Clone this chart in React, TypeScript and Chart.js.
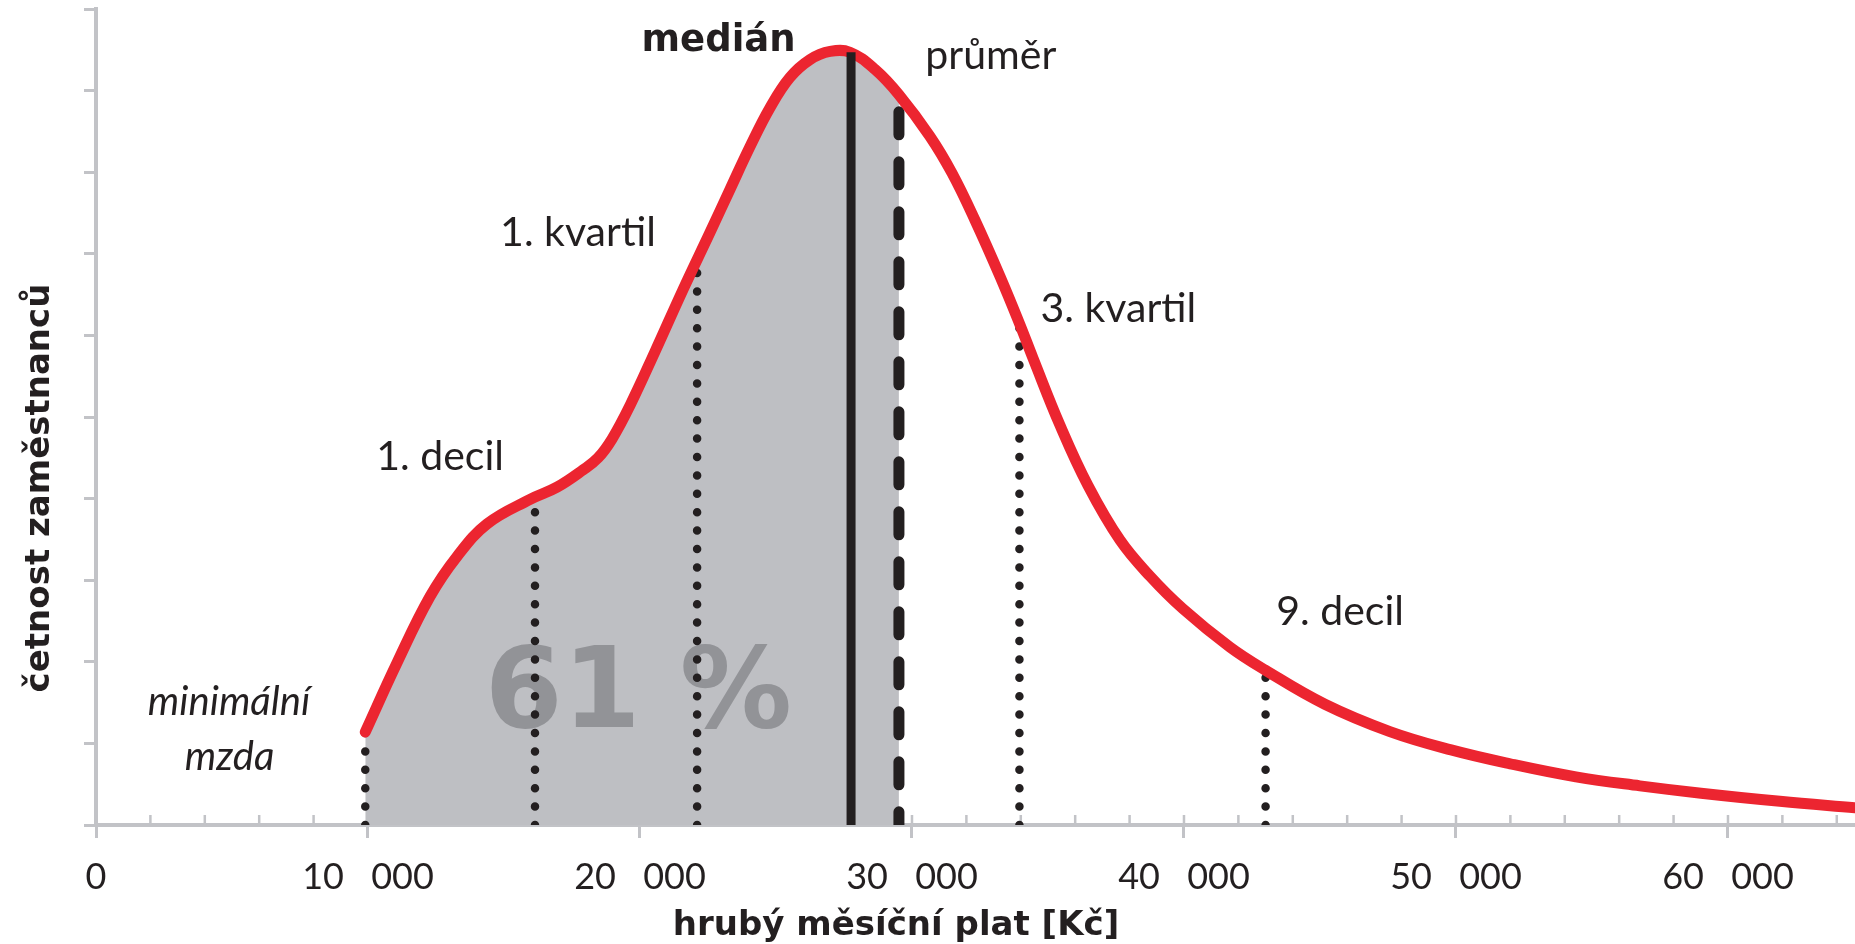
import React, { useEffect, useRef } from 'react';
import { Chart, registerables } from 'chart.js';

Chart.register(...registerables);

// ---------------- data ----------------
// wage distribution curve: gross monthly salary [Kč] and relative frequency (0–10 axis units)
const salary = [
  9900, 11070, 12280, 13270, 14380, 15960, 16950, 17900, 18460, 18970,
  19630, 20550, 21580, 22570, 23310, 24040, 24780, 25510, 26250, 26990,
  27720, 28640, 29520, 30660, 31470, 32320, 33240, 33970, 34450, 35440,
  36470, 37650, 38750, 39960, 41690, 42980, 45180, 47570, 49820, 51990,
  54410, 56760, 59010, 61910, 64670,
];
const frequency = [
  1.14, 1.99, 2.8, 3.29, 3.69, 3.99, 4.14, 4.35, 4.5, 4.73,
  5.14, 5.8, 6.56, 7.26, 7.79, 8.31, 8.79, 9.16, 9.38, 9.48,
  9.47, 9.26, 8.95, 8.44, 7.99, 7.41, 6.72, 6.13, 5.72, 4.9,
  4.16, 3.49, 3.05, 2.65, 2.18, 1.9, 1.48, 1.145, 0.92, 0.75,
  0.59, 0.48, 0.39, 0.29, 0.21,
];

// statistics markers
const markerNames = ['minimální mzda', '1. decil', '1. kvartil', 'medián', 'průměr', '3. kvartil', '9. decil'];
const markerSalary = [9900, 16140, 22100, 27760, 29520, 33950, 43000];
const markerTop = [1.14, 4.0, 6.93, 9.47, 8.74, 6.1, 1.9];

const xTickValues = [0, 10000, 20000, 30000, 40000, 50000, 60000];
const yTickValues = [0, 1, 2, 3, 4, 5, 6, 7, 8, 9, 10];
const shareText = '61 %';
const xTitle = 'hrubý měsíční plat [Kč]';
const yTitle = 'četnost zaměstnanců';

const X_MAX = 64670;
const Y_MAX = 10;
const MEDIAN = markerSalary[3];
const AVERAGE = markerSalary[4];

// ---------------- styles ----------------
const RED = '#ec2530';
const GRAY_FILL = '#bebfc3';
const AXIS = '#c2c3c7';
const INK = '#231f20';
const SHARE = '#929397';
const LIGHT_FONT = 'Lato, "Open Sans", sans-serif';
const BOLD_FONT = '"DejaVu Sans", Verdana, sans-serif';

// label layout: anchor in data units (centre x, baseline y)
const labelLayout = [
  { text: 'medián', x: 22890, y: 9.48, font: `bold 37px ${BOLD_FONT}` },
  { text: 'průměr', x: 32900, y: 9.26, font: `41px ${LIGHT_FONT}` },
  { text: '1. kvartil', x: 17720, y: 7.09, font: `41px ${LIGHT_FONT}` },
  { text: '1. decil', x: 12650, y: 4.35, font: `41px ${LIGHT_FONT}` },
  { text: '3. kvartil', x: 37590, y: 6.16, font: `41px ${LIGHT_FONT}` },
  { text: '9. decil', x: 45740, y: 2.45, font: `41px ${LIGHT_FONT}` },
  { text: 'minimální', x: 4890, y: 1.35, font: `italic 40px ${LIGHT_FONT}` },
  { text: 'mzda', x: 4910, y: 0.67, font: `italic 40px ${LIGHT_FONT}` },
];
const sharePos = { x: 19940, y: 1.2 };

const curveData = salary.map((x, i) => ({ x, y: frequency[i] }));
const fillData = curveData.filter((p) => p.x <= AVERAGE);

const markerDatasets = markerSalary.map((s, i) => {
  const isMedian = s === MEDIAN;
  const isAverage = s === AVERAGE;
  const base = {
    type: 'line' as const,
    label: markerNames[i],
    pointRadius: 0,
    tension: 0,
    fill: false,
    borderColor: INK,
  };
  if (isMedian) {
    return { ...base, data: [{ x: s, y: 0 }, { x: s, y: markerTop[i] }], borderWidth: 9, borderCapStyle: 'butt' as const, order: 0 };
  }
  if (isAverage) {
    return {
      ...base,
      data: [{ x: s, y: markerTop[i] }, { x: s, y: 0 }],
      borderWidth: 11,
      borderDash: [23, 27],
      borderCapStyle: 'round' as const,
      order: 2,
    };
  }
  return {
    ...base,
    data: [{ x: s, y: 0 }, { x: s, y: markerTop[i] }],
    borderWidth: 8.5,
    borderDash: [0, 18.4],
    borderCapStyle: 'round' as const,
    order: 3,
  };
});

const datasets: any[] = [
  {
    type: 'line',
    label: 'četnost',
    data: curveData,
    borderColor: RED,
    borderWidth: 11,
    borderCapStyle: 'round',
    borderJoinStyle: 'round',
    tension: 0.4,
    pointRadius: 0,
    fill: false,
    order: 1,
  },
  ...markerDatasets,
  {
    type: 'line',
    label: 'podíl',
    data: fillData,
    borderColor: 'transparent',
    borderWidth: 0,
    backgroundColor: GRAY_FILL,
    tension: 0.4,
    pointRadius: 0,
    fill: 'origin',
    order: 4,
  },
];
const FILL_INDEX = datasets.length - 1;

const overlay = {
  id: 'overlay',
  beforeDatasetsDraw(chart: any) {
    const { ctx, chartArea, scales } = chart;
    const x = scales.x;
    ctx.save();
    ctx.strokeStyle = AXIS;
    ctx.lineWidth = 2.5;
    ctx.beginPath();
    for (let v = 2000; v <= X_MAX; v += 2000) {
      const px = x.getPixelForValue(v);
      ctx.moveTo(px, chartArea.bottom);
      ctx.lineTo(px, chartArea.bottom - 10);
    }
    ctx.stroke();
    ctx.restore();
  },
  afterDatasetDraw(chart: any, args: any) {
    if (args.index !== FILL_INDEX) return;
    const { ctx, scales } = chart;
    ctx.save();
    ctx.fillStyle = SHARE;
    ctx.font = `bold 112px ${BOLD_FONT}`;
    ctx.textAlign = 'center';
    ctx.textBaseline = 'alphabetic';
    ctx.fillText(shareText, scales.x.getPixelForValue(sharePos.x), scales.y.getPixelForValue(sharePos.y));
    ctx.restore();
  },
  afterDraw(chart: any) {
    const { ctx, scales } = chart;
    ctx.save();
    ctx.fillStyle = INK;
    ctx.textAlign = 'center';
    ctx.textBaseline = 'alphabetic';
    for (const l of labelLayout) {
      ctx.font = l.font;
      ctx.fillText(l.text, scales.x.getPixelForValue(l.x), scales.y.getPixelForValue(l.y));
    }
    // axis titles
    ctx.font = `bold 34px ${BOLD_FONT}`;
    ctx.fillText(xTitle, 896, chart.height - 9);
    ctx.translate(49, 488);
    ctx.rotate(-Math.PI / 2);
    ctx.fillText(yTitle, 0, 0);
    ctx.restore();
  },
};

export default function App() {
  const ref = useRef<HTMLCanvasElement>(null);
  useEffect(() => {
    if (!ref.current) return;
    const chart = new Chart(ref.current, {
      type: 'line',
      data: { datasets },
      options: {
        responsive: false,
        animation: false,
        devicePixelRatio: 1,
        layout: { padding: { top: 9, right: 0, bottom: 0, left: 0 } },
        plugins: {
          legend: { display: false },
          tooltip: { enabled: false },
          title: { display: false },
        },
        scales: {
          x: {
            type: 'linear',
            min: 0,
            max: X_MAX,
            afterFit: (s: any) => {
              s.height = 119;
            },
            afterBuildTicks: (s: any) => {
              s.ticks = xTickValues.map((value) => ({ value }));
            },
            ticks: {
              autoSkip: false,
              maxRotation: 0,
              padding: 18,
              color: INK,
              font: { family: LIGHT_FONT, size: 36 },
              callback: (v: any) => (Number(v) === 0 ? '0' : `${Number(v) / 1000}\u2002 000`),
            },
            grid: { drawOnChartArea: false, drawTicks: true, tickLength: 13, tickColor: AXIS, tickWidth: 3, color: AXIS },
            border: { display: true, color: AXIS, width: 4 },
          },
          y: {
            type: 'linear',
            min: 0,
            max: Y_MAX,
            afterFit: (s: any) => {
              s.width = 96;
            },
            afterBuildTicks: (s: any) => {
              s.ticks = yTickValues.map((value) => ({ value }));
            },
            ticks: { display: false },
            grid: { drawOnChartArea: false, drawTicks: true, tickLength: 12, tickColor: AXIS, tickWidth: 3, color: AXIS },
            border: { display: true, color: AXIS, width: 4 },
          },
        },
      },
      plugins: [overlay],
    } as any);
    return () => chart.destroy();
  }, []);
  return (
    <div style={{ position: 'fixed', left: 0, top: 0, width: 1855, height: 944, background: '#fff' }}>
      <canvas ref={ref} width={1855} height={944} style={{ display: 'block', width: 1855, height: 944 }} />
    </div>
  );
}
